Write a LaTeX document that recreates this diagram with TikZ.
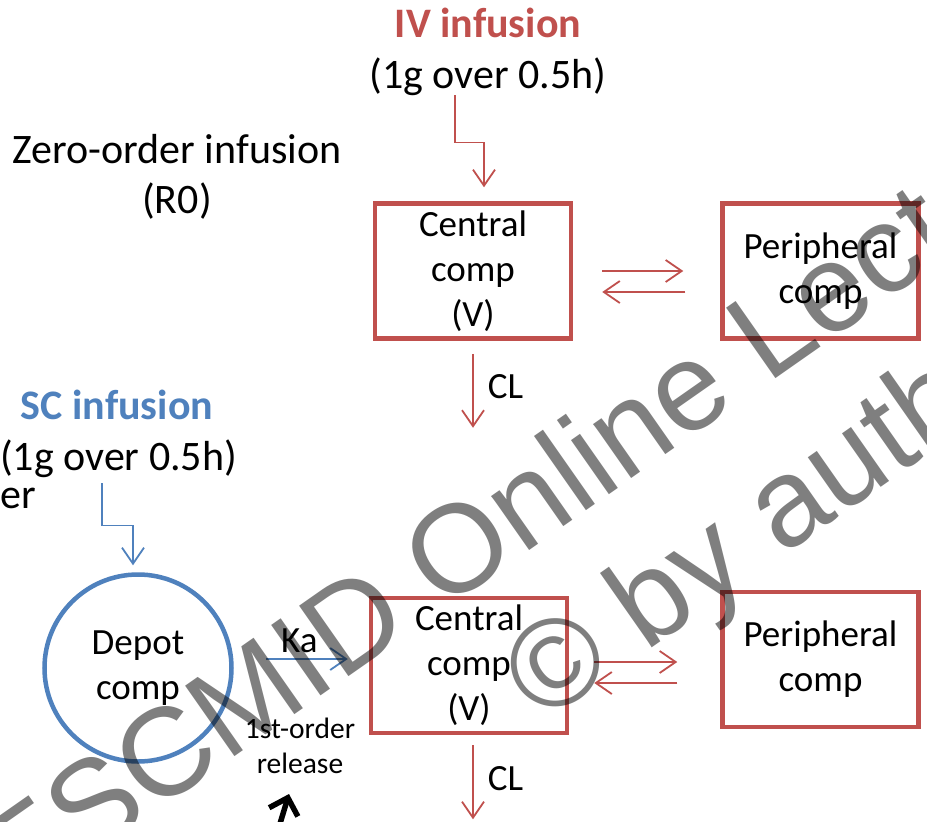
\documentclass[tikz,border=0pt]{standalone}
\usepackage{fontspec}
\setmainfont{Carlito}
\newfontfamily\wmfont{Liberation Sans}
\usetikzlibrary{arrows.meta}
\definecolor{ivred}{HTML}{C0504D}
\definecolor{scblue}{HTML}{4F81BD}
\newcommand\fsBig{\fontsize{42}{50}\selectfont}
\newcommand\fsBox{\fontsize{37}{45}\selectfont}
\newcommand\fsSmall{\fontsize{29.5}{35}\selectfont}
\newcommand\fsWm{\fontsize{125}{150}\selectfont}
\begin{document}
\begin{tikzpicture}[x=1pt,y=-1pt,
  txt/.style={inner sep=0pt, align=center},
  compbox/.style={draw=ivred, line width=4.5pt, minimum width=196pt, minimum height=135pt, inner sep=0pt, align=center, font=\fsBox},
  depotc/.style={circle, draw=scblue, line width=4.5pt, minimum size=187pt, inner sep=0pt, align=center, font=\fsBox},
  redarr/.style={draw=ivred, line width=1.8pt, -{Straight Barb[length=16pt,width=22pt]}},
  bluearr/.style={draw=scblue, line width=1.8pt, -{Straight Barb[length=16pt,width=22pt]}},
  lbl/.style={inner sep=0pt, font=\fsBox},
  wm/.style={inner sep=0pt, text=black, text opacity=0.5, font=\wmfont\fsWm, rotate=35, anchor=base west}
]
\useasboundingbox (0,0) rectangle (927,822);
\fill[white] (0,0) rectangle (927,822);

% top part
\node[txt, font=\fsBig\bfseries, text=ivred, anchor=base] (ivtitle) at (488,37) {IV infusion};
\node[txt, font=\fsBig, anchor=base] (ivdose) at (488,88) {(1g over 0.5h)};
\node[txt, font=\fsBig] (zero) at (177,177) {Zero-order infusion\\(R0)};
\node[compbox] (cen1) at (473,271) {Central\\comp\\(V)};
\node[compbox] (per1) at (820.5,271) {Peripheral\\comp};

% bottom part
\node[txt, font=\fsBig\bfseries, text=scblue, anchor=base] (sctitle) at (117,419) {SC infusion};
\node[txt, font=\fsBig, anchor=base west] (scdose) at (0,470) {(1g over 0.5h)};
\node[txt, font=\fsBig, anchor=base west] (er) at (0,508) {er};
\node[depotc] (depot) at (138,668) {Depot\\comp};
\node[compbox] (cen2) at (469,665.5) {Central\\comp\\(V)};
\node[compbox] (per2) at (820.5,659.5) {Peripheral\\comp};
\node[txt, font=\fsSmall] (release) at (300,746) {1st-order\\release};

% connectors top
\draw[redarr] ([xshift=-33pt]ivdose.south) -- ++(0,47) -| ([xshift=11pt,yshift=14pt]cen1.north);
\draw[redarr] ([yshift=-13pt]cen1.south) -- ++(0,74) node[lbl, pos=0.45, anchor=west, xshift=14pt] (cl1) {CL};
\draw[redarr] ([xshift=29pt]cen1.east) -- ([xshift=-37pt]per1.west);
\draw[redarr] ([xshift=-35pt,yshift=-21pt]per1.west) -- ([xshift=29pt,yshift=-21pt]cen1.east);

% connectors bottom
\draw[bluearr] ([xshift=-16.5pt,yshift=-6pt]scdose.south) -- ++(0,42) -| ([xshift=-5pt,yshift=7pt]depot.north);
\draw[bluearr] ([xshift=32pt,yshift=9pt]depot.east) -- ++(82,0) node[lbl, pos=0.41, anchor=base, yshift=7pt] (ka) {Ka};
\draw[redarr] ([xshift=25pt,yshift=3.5pt]cen2.east) -- ([xshift=-43pt,yshift=-2.5pt]per2.west);
\draw[redarr] ([xshift=-43pt,yshift=-23.5pt]per2.west) -- ([xshift=25pt,yshift=-17.5pt]cen2.east);
\draw[redarr] ([xshift=4pt,yshift=-10pt]cen2.south) -- ++(0,74) node[lbl, pos=0.45, anchor=west, xshift=14pt] (cl2) {CL};

\begin{scope}
\clip (0,0) rectangle (927,822);
\coordinate (bk1) at (272,850);
\coordinate (bk2) at (289,794);
\draw[line width=5.5pt, -{Straight Barb[length=15pt,width=30pt]}] (bk1) -- (bk2);
\node[wm] (wm1) at (16,910) {ESCMID Online Lecture Library};
\node[wm] (wm2) at (542,725) {© by author};
\end{scope}
\end{tikzpicture}
\end{document}
